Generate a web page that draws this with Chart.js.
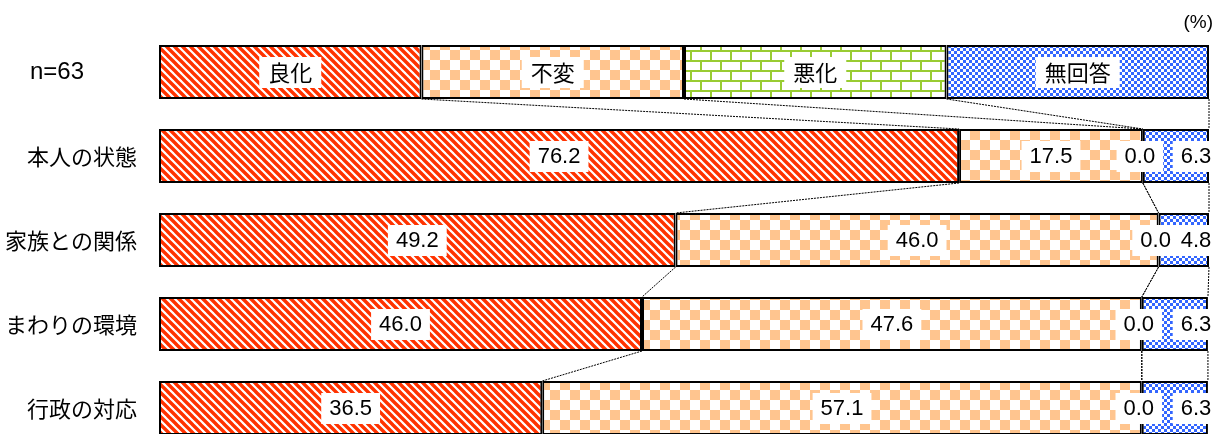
<!DOCTYPE html>
<html>
<head>
<meta charset="utf-8">
<script src="https://cdn.jsdelivr.net/npm/chart.js@4"></script>
<style>
  html, body { margin: 0; padding: 0; background: #fff; overflow: hidden; }
  #wrap { position: relative; width: 1231px; height: 450px; }
</style>
</head>
<body>
<div id="wrap"><canvas id="chart"></canvas></div>
<script>
const categories = ['n=63', '本人の状態', '家族との関係', 'まわりの環境', '行政の対応'];
const seriesNames = ['良化', '不変', '悪化', '無回答'];
// first row is the legend bar (equal shares), the rest are the answers (%)
const legendShare = [25, 25, 25, 25];
const improved  = [76.2, 49.2, 46.0, 36.5];
const unchanged = [17.5, 46.0, 47.6, 57.1];
const worsened  = [0.0, 0.0, 0.0, 0.0];
const noAnswer  = [6.3, 4.8, 6.3, 6.3];

const CJK = '"Noto Sans CJK JP", "Noto Sans", sans-serif';
const NUM = '"Liberation Sans", Arial, sans-serif';

function makePattern(w, h, draw) {
  const c = document.createElement('canvas');
  c.width = w; c.height = h;
  const g = c.getContext('2d');
  draw(g, w, h);
  return g.createPattern(c, 'repeat');
}

const stripes = makePattern(8, 8, (g, w, h) => {
  g.fillStyle = '#fff'; g.fillRect(0, 0, w, h);
  g.strokeStyle = '#FF3300'; g.lineWidth = 3.4;
  g.beginPath();
  for (let k = -1; k <= 1; k++) { g.moveTo(k * 8 - 1, -1); g.lineTo(k * 8 + 9, 9); }
  g.stroke();
});
const checker = makePattern(20, 20, (g) => {
  g.fillStyle = '#fff'; g.fillRect(0, 0, 20, 20);
  g.fillStyle = '#FFC58F';
  g.fillRect(0, 0, 10, 10); g.fillRect(10, 10, 10, 10);
});
const brick = makePattern(20, 20, (g) => {
  g.fillStyle = '#fff'; g.fillRect(0, 0, 20, 20);
  g.fillStyle = '#99CC33';
  g.fillRect(0, 0, 20, 2); g.fillRect(0, 10, 20, 2);
  g.fillRect(0, 0, 2, 10); g.fillRect(10, 10, 2, 10);
});
const dots = makePattern(6, 6, (g) => {
  g.fillStyle = '#3366FF'; g.fillRect(0, 0, 6, 6);
  g.fillStyle = '#fff';
  g.fillRect(0, 0, 3, 3); g.fillRect(3, 3, 3, 3);
});

const fills = [stripes, checker, brick, dots];
const series = [improved, unchanged, worsened, noAnswer];

const datasets = seriesNames.map((name, k) => ({
  label: name,
  data: [legendShare[k], ...series[k]],
  backgroundColor: fills[k],
  borderColor: '#000',
  borderWidth: 2,
  borderSkipped: false,
  barPercentage: 54 / 84,
  categoryPercentage: 1
}));

function labelBox(ctx, text, x, y, font, padX) {
  ctx.font = font;
  const w = ctx.measureText(text).width;
  ctx.fillStyle = '#fff';
  ctx.fillRect(x - w / 2 - padX, y - 15, w + padX * 2, 31);
  ctx.fillStyle = '#000';
  ctx.fillText(text, x, y + 1);
}

const overlay = {
  id: 'overlay',
  afterDatasetsDraw(chart) {
    const ctx = chart.ctx;
    const area = chart.chartArea;
    const metas = chart.data.datasets.map((d, i) => chart.getDatasetMeta(i));
    ctx.save();

    // series lines between neighbouring bars
    ctx.strokeStyle = '#000';
    ctx.lineWidth = 1;
    ctx.setLineDash([2, 1]);
    for (let r = 0; r < categories.length - 1; r++) {
      metas.forEach(m => {
        const a = m.data[r], b = m.data[r + 1];
        ctx.beginPath();
        ctx.moveTo(a.x, a.y + a.height / 2);
        ctx.lineTo(b.x, b.y - b.height / 2);
        ctx.stroke();
      });
    }
    ctx.setLineDash([]);

    ctx.textAlign = 'center';
    ctx.textBaseline = 'middle';
    metas.forEach((m, k) => {
      m.data.forEach((bar, r) => {
        const cx = (bar.x + bar.base) / 2;
        if (r === 0) {
          labelBox(ctx, seriesNames[k], cx, bar.y, '22px ' + CJK, 9);
        } else {
          const v = chart.data.datasets[k].data[r];
          let x = cx;
          if (k === seriesNames.length - 1) x = area.right - 13;
          else if (v === 0) x = cx - 3;
          labelBox(ctx, v.toFixed(1), x, bar.y, '22px ' + NUM, 8);
        }
      });
    });

    // category labels on the left
    const ys = chart.scales.y;
    ctx.fillStyle = '#000';
    categories.forEach((c, i) => {
      const y = ys.getPixelForValue(i);
      if (i === 0) {
        ctx.textAlign = 'left';
        ctx.font = '24px ' + NUM;
        ctx.fillText(c, 30, y);
      } else {
        ctx.textAlign = 'right';
        ctx.font = '22px ' + CJK;
        ctx.fillText(c, 137, y + 1);
      }
    });

    ctx.textAlign = 'right';
    ctx.font = '19px ' + NUM;
    ctx.fillText('(%)', 1213, 23);
    ctx.restore();
  }
};

new Chart(document.getElementById('chart'), {
  type: 'bar',
  data: { labels: categories, datasets: datasets },
  options: {
    indexAxis: 'y',
    responsive: true,
    maintainAspectRatio: false,
    animation: false,
    layout: { padding: { left: 159, right: 22, top: 30, bottom: 0 } },
    plugins: { legend: { display: false }, tooltip: { enabled: false } },
    scales: {
      x: { stacked: true, min: 0, max: 100, display: false },
      y: { stacked: true, display: false }
    }
  },
  plugins: [overlay]
});
</script>
</body>
</html>
